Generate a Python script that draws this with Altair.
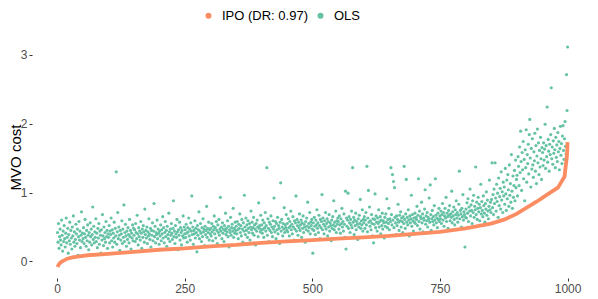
import altair as alt
import pandas as pd

# IPO cost curve (sorted), knots: index -> cost
ipo_x = [1, 3, 6, 10, 15, 20, 30, 40, 60, 100, 150, 200, 250, 300, 350, 400, 450, 500,
         550, 600, 650, 700, 750, 800, 850, 877, 900, 920, 940, 960, 981, 994, 999, 1000]
ipo_y = [-0.08, -0.05, -0.02, 0.00, 0.02, 0.04, 0.06, 0.07, 0.09, 0.11, 0.14, 0.17, 0.19, 0.22,
         0.24, 0.27, 0.29, 0.31, 0.33, 0.35, 0.37, 0.40, 0.43, 0.48, 0.55, 0.61, 0.69, 0.78,
         0.87, 0.97, 1.07, 1.23, 1.55, 1.73]

# OLS cost per instance (same ordering as IPO)
ols_y = [
    0.42,0.28,0.55,0.19,0.36,0.47,0.31,0.24,0.60,0.38,0.15,0.44,0.29,0.52,0.33,0.21,0.41,0.63,0.27,0.35,0.48,0.12,0.39,0.30,0.57,
    0.25,0.45,0.34,0.18,0.50,0.37,0.66,0.28,0.43,0.22,0.32,0.54,0.40,0.26,0.47,0.09,0.36,0.58,0.31,0.44,0.20,0.38,0.72,0.29,0.41,
    0.33,0.49,0.26,0.40,0.61,0.35,0.22,0.45,0.30,0.53,0.38,0.17,0.42,0.28,0.56,0.36,0.47,0.24,0.39,0.79,0.32,0.51,0.27,0.43,0.35,
    0.62,0.29,0.41,0.20,0.48,0.34,0.55,0.25,0.44,0.38,0.12,0.46,0.31,0.68,0.37,0.23,0.50,0.33,0.42,0.28,0.58,0.36,0.45,0.19,0.40,
    0.35,0.52,0.27,0.44,0.39,0.63,0.30,0.46,0.21,0.41,0.34,0.57,0.28,0.48,0.37,1.30,0.25,0.43,0.71,0.33,0.50,0.38,0.16,0.45,0.31,
    0.40,0.59,0.26,0.47,0.35,0.82,0.29,0.42,0.54,0.37,0.22,0.44,0.32,0.49,0.39,0.27,0.61,0.36,0.45,0.18,0.41,0.34,0.53,0.30,0.48,
    0.38,0.46,0.29,0.55,0.42,0.33,0.67,0.40,0.24,0.49,0.36,0.44,0.31,0.58,0.41,0.19,0.47,0.35,0.52,0.43,0.28,0.76,0.39,0.45,0.34,
    0.50,0.26,0.43,0.37,0.62,0.40,0.32,0.48,0.21,0.45,0.38,0.56,0.30,0.44,0.84,0.36,0.51,0.27,0.42,0.39,0.60,0.33,0.47,0.41,0.25,
    0.44,0.37,0.53,0.30,0.46,0.40,0.65,0.34,0.49,0.27,0.42,0.58,0.36,0.45,0.22,0.51,0.39,0.33,0.70,0.43,0.29,0.47,0.38,0.55,0.41,
    0.32,0.48,0.88,0.36,0.44,0.26,0.52,0.40,0.35,0.61,0.43,0.17,0.46,0.38,0.57,0.31,0.49,0.42,0.24,0.45,0.37,0.66,0.34,0.50,0.40,
    0.46,0.35,0.54,0.41,0.28,0.49,0.43,0.63,0.37,0.47,0.31,0.56,0.44,0.95,0.39,0.50,0.25,0.45,0.40,0.59,0.34,0.48,0.42,0.14,0.52,
    0.38,0.46,0.72,0.33,0.44,0.55,0.41,0.29,0.49,0.36,0.62,0.43,0.47,0.23,0.51,0.39,0.45,0.80,0.35,0.48,0.42,0.57,0.31,0.46,0.40,
    0.48,0.37,0.55,0.43,0.30,0.51,0.46,0.66,0.40,0.49,0.34,0.58,0.45,0.26,0.53,0.42,0.61,0.38,0.47,0.93,0.44,0.50,0.33,0.56,0.41,
    0.47,0.29,0.52,0.45,0.70,0.39,0.48,0.43,0.59,0.36,0.51,0.21,0.46,0.42,0.64,0.38,0.49,0.54,0.44,0.77,0.35,0.48,0.41,0.57,0.45,
    0.51,0.40,0.58,0.46,0.33,0.54,0.48,0.69,0.42,0.52,0.37,0.61,0.47,0.28,0.56,0.44,0.96,0.50,0.39,0.63,0.45,0.53,0.35,0.59,0.48,
    0.42,0.55,0.31,0.50,0.73,0.46,0.57,0.41,0.49,0.64,0.38,0.53,0.47,0.24,0.55,0.44,0.60,0.50,0.36,0.85,0.48,0.52,0.43,0.67,0.46,
    0.53,0.41,0.60,0.47,0.35,0.56,0.49,0.71,0.44,0.52,1.36,0.38,0.62,0.48,0.29,0.57,0.45,0.54,0.66,0.42,0.50,0.36,0.59,0.47,0.92,
    0.51,0.43,0.58,0.33,0.55,0.46,0.64,0.40,0.52,0.48,0.26,0.57,1.14,0.44,0.61,0.50,0.37,0.55,0.47,0.78,0.42,0.53,0.49,0.68,0.45,
    0.55,0.43,0.62,0.49,0.37,0.58,0.51,0.73,0.46,0.54,0.40,0.65,0.50,0.31,0.59,0.47,0.56,0.95,0.44,0.61,0.52,0.38,0.57,0.49,0.69,
    0.45,0.53,0.60,0.35,0.56,0.48,0.66,0.42,0.54,0.50,0.28,0.58,0.46,0.63,0.51,0.86,0.44,0.55,0.49,0.71,0.40,0.57,0.52,0.61,0.47,
    0.12,0.56,0.45,0.64,0.51,0.39,0.60,0.53,0.75,0.48,0.56,0.42,0.67,0.52,0.33,0.61,0.49,0.58,0.97,0.46,0.63,0.54,0.40,0.59,0.51,
    0.71,0.47,0.55,0.62,0.37,0.58,0.50,0.68,0.44,0.56,0.52,0.30,0.60,0.48,0.65,0.53,0.88,0.46,0.57,0.51,0.73,0.42,0.59,0.54,0.63,
    0.58,0.47,0.66,0.53,0.41,0.62,0.55,0.77,0.50,0.58,0.44,0.69,0.54,0.35,1.02,0.18,0.63,0.51,0.60,0.99,0.48,0.65,0.56,0.42,0.61,
    0.53,0.73,0.49,1.36,0.57,0.64,0.39,0.60,0.52,0.70,0.46,0.58,0.54,0.32,0.62,0.50,0.67,0.55,0.90,0.48,0.59,0.53,0.75,0.44,0.61,
    0.56,0.65,0.48,0.60,0.71,0.53,1.38,0.43,0.63,1.03,0.57,0.79,0.51,0.59,0.46,0.68,0.55,0.37,0.62,0.27,0.54,0.61,0.98,0.49,0.66,
    0.57,0.44,0.63,0.55,0.75,0.50,0.58,0.65,0.40,0.60,0.52,0.70,0.47,0.59,0.56,0.34,0.64,0.51,0.69,0.57,0.91,0.49,0.61,0.55,0.77,
    0.46,0.62,0.58,1.36,0.68,0.53,1.26,0.60,1.16,0.49,1.07,0.64,0.56,0.39,0.66,0.52,0.61,0.83,0.57,0.45,0.67,0.59,0.72,0.50,0.63,
    0.58,0.42,0.65,0.55,1.38,0.61,0.48,0.69,1.19,0.57,0.64,0.53,0.75,0.60,0.37,0.66,0.56,0.62,0.96,0.51,0.68,0.59,0.44,0.63,0.57,
    0.70,0.55,0.64,0.61,0.80,0.52,0.67,1.20,0.58,0.73,0.47,0.65,0.62,0.86,0.56,0.69,0.43,0.63,0.60,0.76,1.04,0.54,0.66,0.59,0.71,
    0.50,0.64,0.61,0.92,0.57,1.11,0.68,0.45,0.62,0.74,0.58,0.65,0.53,0.81,0.60,1.20,0.67,0.56,0.63,0.49,0.70,0.61,0.77,0.58,0.66,
    0.62,0.73,0.55,0.68,0.84,0.60,0.71,0.51,0.66,0.77,0.63,0.93,0.58,0.70,0.65,0.48,0.74,0.67,0.81,0.59,0.69,0.64,1.02,0.56,0.72,
    0.66,0.79,0.61,0.53,0.75,0.68,0.88,0.63,0.71,0.57,0.67,0.83,1.31,0.62,0.74,0.69,0.50,0.77,0.65,0.97,0.60,0.72,0.68,0.21,0.64,
    0.76,0.63,0.85,0.70,0.91,0.58,0.79,0.73,1.05,0.66,0.82,0.74,0.55,0.88,0.71,0.96,0.64,0.80,0.75,1.37,0.68,0.86,0.61,0.77,0.93,
    0.72,0.83,0.59,0.78,1.12,0.69,0.87,0.74,0.65,0.95,0.81,0.70,0.57,0.84,0.76,1.01,0.67,0.89,0.73,0.62,0.80,1.18,0.75,0.86,0.71,
    0.90,1.43,0.78,0.97,0.68,1.05,0.84,1.43,0.92,0.73,1.12,0.87,0.99,0.64,1.21,0.81,0.94,1.06,0.76,1.30,0.89,1.01,0.71,1.15,0.95,
    1.08,0.83,1.35,0.98,0.74,1.18,0.91,1.26,1.04,0.80,1.40,0.96,1.13,0.86,1.55,1.02,0.77,1.24,0.93,1.10,1.32,0.88,1.47,1.07,1.19,
    1.25,0.95,1.52,1.38,1.10,1.66,1.29,1.89,1.45,1.03,1.58,1.33,1.74,1.20,1.48,0.88,1.62,1.36,1.91,1.15,1.55,1.42,1.70,1.27,1.84,
    2.06,1.50,1.08,1.64,1.34,1.78,1.40,1.22,1.59,1.46,1.86,1.31,1.68,1.13,1.53,1.92,1.43,1.72,1.26,1.61,1.37,1.80,1.49,1.19,1.65,
    1.58,1.39,1.72,1.47,1.63,1.99,1.35,1.68,1.52,2.24,1.44,1.77,1.60,1.31,1.70,1.55,1.84,2.52,1.49,1.66,1.41,1.75,1.57,1.93,1.62,
    1.36,1.80,1.51,1.69,1.45,1.87,1.59,1.74,1.33,1.64,1.96,1.54,1.71,1.42,1.82,1.97,1.61,1.48,1.78,2.03,1.67,1.56,2.71,2.19,3.11,
]

series_names = ["IPO (DR: 0.97)", "OLS"]
series_colors = ["#FC8D62", "#66C2A5"]
x_ticks = [0, 250, 500, 750, 1000]
y_ticks = [0, 1, 2, 3]

ols_df = pd.DataFrame({"x": list(range(1, len(ols_y) + 1)), "y": ols_y, "series": "OLS"})
ipo_df = pd.DataFrame({"x": ipo_x, "y": ipo_y, "series": series_names[0]})

font = "Liberation Sans"
xs = alt.Scale(domain=[-49, 1040], nice=False, zero=False)
ys = alt.Scale(domain=[-0.24, 3.27], nice=False, zero=False)

x_axis = alt.Axis(title=None, values=x_ticks, format="d", grid=False, domain=False, ticks=True,
                  tickSize=3, tickColor="#333333", labelColor="#4D4D4D",
                  labelFontSize=12, labelFont=font, labelPadding=2)
y_axis = alt.Axis(title="MVO cost", values=y_ticks, format="d", grid=False, domain=False, ticks=True,
                  tickSize=3, tickColor="#333333", labelColor="#4D4D4D",
                  labelFontSize=12, labelFont=font, labelPadding=2,
                  titleFont=font, titleFontSize=15, titleFontWeight="normal",
                  titleColor="black", titleX=-12, titleBaseline="alphabetic")

points = alt.Chart(ols_df).mark_circle(size=10, opacity=1).encode(
    x=alt.X("x:Q", scale=xs, axis=x_axis),
    y=alt.Y("y:Q", scale=ys, axis=y_axis),
    color=alt.Color("series:N",
                    scale=alt.Scale(domain=series_names, range=series_colors),
                    legend=alt.Legend(title=None, orient="none", direction="horizontal",
                                      legendX=170, legendY=-27, symbolType="circle",
                                      symbolSize=36, labelFontSize=13, labelFont=font,
                                      labelColor="black", labelOffset=7, columnPadding=6,
                                      symbolStrokeWidth=0)),
)

line = alt.Chart(ipo_df).mark_line(strokeWidth=3.8, color="#FC8D62").encode(
    x=alt.X("x:Q", scale=xs),
    y=alt.Y("y:Q", scale=ys),
)

chart = alt.layer(points, line).properties(
    width=556, height=242,
    autosize=alt.AutoSizeParams(type="none"),
    padding={"left": 24, "top": 28, "right": 0, "bottom": 18},
).configure_view(stroke=None)

chart.save("out.html", embed_options={"renderer": "svg", "actions": False})
